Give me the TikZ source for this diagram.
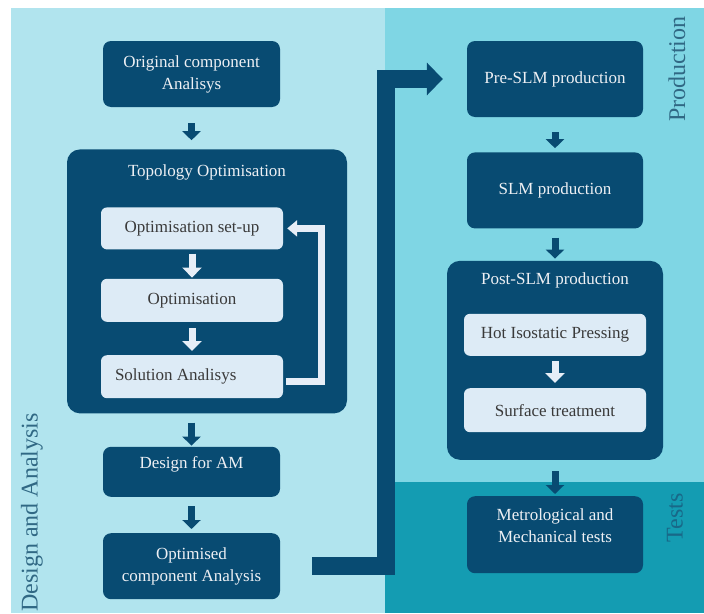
\documentclass[tikz,border=0pt]{standalone}
\usepackage{fontspec}
\setmainfont{Liberation Serif}
\usetikzlibrary{arrows.meta,positioning,calc}
\definecolor{DeepBlue}{RGB}{8,75,114}
\definecolor{PaleBox}{RGB}{221,235,246}
\definecolor{PaleArrow}{RGB}{230,238,247}
\definecolor{PanelDesign}{RGB}{177,228,238}
\definecolor{PanelProd}{RGB}{127,214,228}
\definecolor{PanelTests}{RGB}{20,156,178}
\definecolor{BoxText}{RGB}{238,240,244}
\definecolor{InkGrey}{RGB}{58,58,58}
\definecolor{LabelBlue}{RGB}{48,104,132}
\definecolor{LabelTests}{RGB}{24,104,136}
\tikzset{
  stagebox/.style={fill=DeepBlue, rounded corners=8pt, text=BoxText, align=center,
    minimum width=#1, font=\fontsize{17}{22}\selectfont, inner sep=4pt},
  stagebox/.default=177pt,
  groupbox/.style={fill=DeepBlue, rounded corners=13pt, inner sep=0pt},
  grouptitle/.style={text=BoxText, font=\fontsize{17}{22}\selectfont, inner sep=0pt},
  substep/.style={fill=PaleBox, rounded corners=6pt, text=InkGrey, align=center,
    minimum width=182pt, minimum height=#1, font=\fontsize{17}{22}\selectfont, inner sep=3pt},
  substep/.default=42pt,
  flowarr/.style={-{Triangle[width=18pt, length=9pt]}, line width=7pt, DeepBlue},
  subarr/.style={-{Triangle[width=19pt, length=10pt]}, line width=7pt, PaleArrow},
  handoff/.style={-{Triangle[width=32pt, length=16pt]}, line width=18pt, DeepBlue},
  phaselabel/.style={rotate=90, font=\fontsize{24}{28}\selectfont, inner sep=0pt},
}
\begin{document}
\begin{tikzpicture}[x=1pt, y=-1pt]
  \useasboundingbox (0,0) rectangle (704,613);
  % phase panels
  \fill[PanelDesign] (11,8) rectangle (385,613);
  \fill[PanelProd] (385,8) rectangle (704,482);
  \fill[PanelTests] (385,482) rectangle (704,613);
  \node[phaselabel, anchor=west, text=LabelBlue] (design) at (32,612) {Design and Analysis};
  \node[phaselabel, text=LabelBlue] (prod) at (677,69) {Production};
  \node[phaselabel, text=LabelTests] (tests) at (675,518) {Tests};

  % design and analysis
  \node[stagebox, minimum height=66pt] (orig) at (191.5,74) {Original component\\Analisys};
  \node[groupbox, minimum width=280pt, minimum height=264pt, below=42pt of orig, xshift=15.5pt] (topo) {};
  \node[grouptitle] (topotitle) at ([yshift=-23pt]topo.north) {Topology Optimisation};
  \node[substep, below=58pt of topo.north, xshift=-15pt] (setup) {Optimisation set-up};
  \node[substep=43pt, below=29pt of setup] (optim) {Optimisation};
  \node[substep=43pt, below=33pt of optim, align=flush left, text width=154pt, inner xsep=14pt] (sol) {Solution Analisys};
  \node[stagebox, minimum height=50pt, text height=12pt, text depth=18pt, below=33pt of topo, xshift=-15.5pt] (dfam) {Design for AM};
  \node[stagebox, minimum height=66pt, below=36pt of dfam] (optc) {Optimised\\component Analysis};

  % production and tests
  \node[stagebox=176pt, minimum height=76pt] (pre) at (555,79) {Pre-SLM production};
  \node[stagebox=176pt, minimum height=76pt, below=35pt of pre] (slm) {SLM production};
  \node[groupbox, minimum width=216pt, minimum height=199pt, below=32pt of slm] (post) {};
  \node[grouptitle] (posttitle) at ([yshift=-20pt]post.north) {Post-SLM production};
  \node[substep, below=53pt of post.north] (hip) {Hot Isostatic Pressing};
  \node[substep=44pt, below=32pt of hip] (surf) {Surface treatment};
  \node[stagebox=176pt, minimum height=77pt, text depth=19pt, below=36pt of post] (metro) {Metrological and\\Mechanical tests};

  % connectors
  \draw[flowarr, shorten <=16pt, shorten >=9pt] (orig.south) -- (orig.south |- topo.north);
  \draw[flowarr, shorten <=9pt, shorten >=1pt] (dfam.north |- topo.south) -- (dfam.north);
  \draw[flowarr, shorten <=9pt, shorten >=4pt] (dfam) -- (optc);
  \draw[subarr, shorten <=4pt, shorten >=1pt] (setup) -- (optim);
  \draw[subarr, shorten <=6pt, shorten >=4pt] (optim) -- (sol);
  \draw[subarr, shorten <=5pt, shorten >=5pt] (hip) -- (surf);
  \draw[flowarr, shorten <=15pt, shorten >=4pt] (pre) -- (slm);
  \draw[flowarr, shorten <=9pt, shorten >=2pt] (slm) -- (post);
  \draw[flowarr, shorten <=11pt, shorten >=2pt] (post) -- (metro);
  \draw[subarr, -{Triangle[width=16pt, length=10pt]}, shorten <=3pt, shorten >=4pt]
    ([yshift=-5pt]sol.east) -- ++(38,0) |- (setup.east);
  % hand-off to production
  \coordinate (bend) at (385.5,0);
  \draw[handoff, shorten <=32pt, shorten >=24pt] (optc.east) -| (bend |- pre.west) -- (pre.west);
\end{tikzpicture}
\end{document}
